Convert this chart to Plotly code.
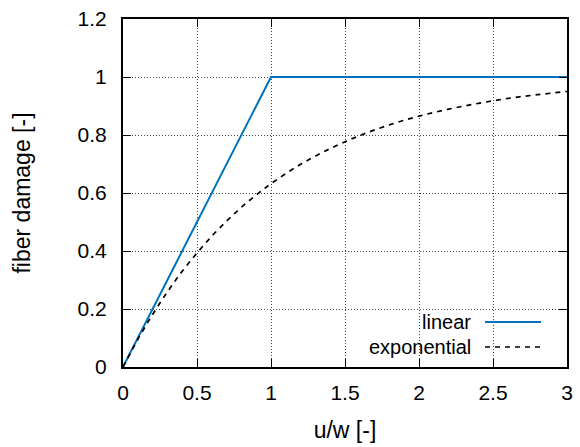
import plotly.graph_objects as go

# data
lin_x = [0.0, 1.0, 3.0]
lin_y = [0.0, 1.0, 1.0]

exp_x = [0.0, 0.1, 0.2, 0.3, 0.4, 0.5, 0.6, 0.7, 0.8, 0.9, 1.0, 1.2, 1.4, 1.6,
         1.8, 2.0, 2.2, 2.4, 2.6, 2.8, 3.0]
exp_y = [0.0, 0.095, 0.181, 0.259, 0.330, 0.393, 0.451, 0.503, 0.551, 0.593,
         0.632, 0.699, 0.753, 0.798, 0.835, 0.865, 0.889, 0.909, 0.926, 0.939, 0.950]

x_ticks = [0, 0.5, 1, 1.5, 2, 2.5, 3]
x_labels = ["0", "0.5", "1", "1.5", "2", "2.5", "3"]
y_ticks = [0, 0.2, 0.4, 0.6, 0.8, 1.0, 1.2]
y_labels = ["0", "0.2", "0.4", "0.6", "0.8", "1", "1.2"]

series_names = ["linear", "exponential"]
BLUE = "#0072bd"
FONT = "Liberation Sans, Arial, sans-serif"

W, H = 580, 447
ML, MR, MT, MB = 123, 13, 19, 80
PW, PH = W - ML - MR, H - MT - MB


def px(xp):
    return (xp - ML) / PW


def py(yp):
    return (H - MB - yp) / PH


fig = go.Figure()
fig.add_trace(go.Scatter(x=lin_x, y=lin_y, mode="lines", name=series_names[0],
                         line=dict(color=BLUE, width=2), showlegend=False))
fig.add_trace(go.Scatter(x=exp_x, y=exp_y, mode="lines", name=series_names[1],
                         line=dict(color="black", width=1.7, dash="5px,5px", shape="spline"),
                         showlegend=False))

axis_common = dict(
    showline=True, linecolor="black", linewidth=2, mirror="ticks",
    ticks="inside", ticklen=8, tickwidth=1, tickcolor="black",
    showgrid=True, gridcolor="#444", gridwidth=1, griddash="1px,2px",
    zeroline=False, automargin=False,
    tickfont=dict(family=FONT, size=21, color="black"),
)

fig.update_xaxes(range=[0, 3], tickvals=x_ticks, ticktext=x_labels,
                 ticklabelstandoff=6,
                 title=dict(text="u/w [-]", font=dict(family=FONT, size=23, color="black"),
                            standoff=19),
                 **axis_common)
fig.update_yaxes(range=[0, 1.2], tickvals=y_ticks, ticktext=y_labels,
                 ticklabelstandoff=10,
                 title=dict(text="fiber damage [-]", font=dict(family=FONT, size=23, color="black"),
                            standoff=41),
                 **axis_common)

# legend (gnuplot style: text then sample line) on a white box
fig.add_shape(type="rect", xref="paper", yref="paper", layer="between",
              x0=px(290), x1=1.0, y0=py(358), y1=py(310.5),
              line=dict(width=0), fillcolor="white")
leg_rows = [(322, dict(color=BLUE, width=2)),
            (347, dict(color="black", width=1.7, dash="5px,5px"))]
for name, (yp, ln) in zip(series_names, leg_rows):
    fig.add_annotation(xref="paper", yref="paper", x=px(473), y=py(yp),
                       text=name, showarrow=False, xanchor="right", yanchor="middle",
                       font=dict(family=FONT, size=20, color="black"))
    fig.add_shape(type="line", xref="paper", yref="paper", layer="above",
                  x0=px(485), x1=px(541), y0=py(yp), y1=py(yp), line=ln)

fig.update_layout(width=W, height=H, margin=dict(l=ML, r=MR, t=MT, b=MB),
                  plot_bgcolor="white", paper_bgcolor="white", showlegend=False)

fig.write_html("out.html")
